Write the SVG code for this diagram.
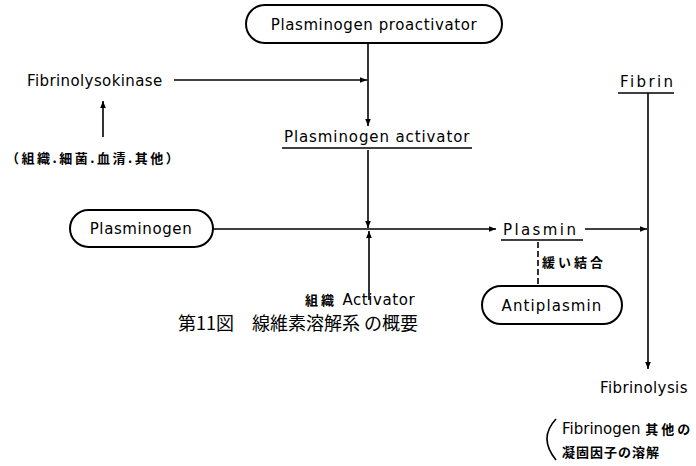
<svg xmlns="http://www.w3.org/2000/svg" width="696" height="466" viewBox="0 0 696 466">
<style>
.t{font-family:"DejaVu Sans","Noto Sans CJK JP",sans-serif;font-size:15px;fill:#000}
.j{font-family:"Noto Sans CJK JP",sans-serif;font-size:13px;font-weight:bold;fill:#000}
.c{font-family:"Noto Sans CJK JP",serif;font-size:18px;fill:#000}
.box{fill:#fff;stroke:#000;stroke-width:2}
.ln{stroke:#000;stroke-width:1.6;fill:none}
</style>
<defs>
<marker id="ah" viewBox="0 0 10 10" refX="10" refY="5" markerWidth="7" markerHeight="7" markerUnits="userSpaceOnUse" orient="auto"><path d="M0,1 L10,5 L0,9 Z" fill="#000"/></marker>
</defs>
<g id="connectors">
<line class="ln" x1="368" y1="43" x2="368" y2="126" marker-end="url(#ah)"/>
<line class="ln" x1="174" y1="80" x2="367" y2="80" marker-end="url(#ah)"/>
<line class="ln" x1="103" y1="137" x2="103" y2="101" marker-end="url(#ah)"/>
<line class="ln" x1="368" y1="150" x2="368" y2="228" marker-end="url(#ah)"/>
<line class="ln" x1="213" y1="229" x2="496" y2="229" marker-end="url(#ah)"/>
<line class="ln" x1="369" y1="300" x2="369" y2="231" marker-end="url(#ah)"/>
<line class="ln" x1="585" y1="229" x2="647" y2="229" marker-end="url(#ah)"/>
<line class="ln" x1="648" y1="93" x2="648" y2="369" marker-end="url(#ah)"/>
<line class="ln" x1="538" y1="242" x2="538" y2="286" stroke-dasharray="6,3"/>
</g>
<g id="proactivator">
<rect class="box" x="246" y="5" width="256" height="38" rx="19"/>
<text class="t" x="374" y="30" text-anchor="middle" letter-spacing="0.6">Plasminogen  proactivator</text>
</g>
<g id="fibrinolysokinase">
<text class="t" x="27" y="86" letter-spacing="0.4">Fibrinolysokinase</text>
</g>
<g id="sources">
<text class="j" x="6" y="163" font-size="15" letter-spacing="2.5">（組織.細菌.血清.其他）</text>
</g>
<g id="activator">
<text class="t" x="284" y="142" letter-spacing="0.9">Plasminogen  activator</text>
<line class="ln" x1="282" y1="148" x2="472" y2="148"/>
</g>
<g id="plasminogen">
<rect class="box" x="70" y="210" width="143" height="37" rx="18.5"/>
<text class="t" x="141" y="234" text-anchor="middle" letter-spacing="0.6">Plasminogen</text>
</g>
<g id="plasmin">
<text class="t" x="503" y="235" letter-spacing="2.4">Plasmin</text>
<line class="ln" x1="501" y1="240" x2="583" y2="240"/>
</g>
<g id="binding">
<text class="j" x="542" y="267" letter-spacing="3">緩い結合</text>
</g>
<g id="antiplasmin">
<rect class="box" x="482" y="286" width="140" height="38" rx="19"/>
<text class="t" x="552" y="311" text-anchor="middle" letter-spacing="1.1">Antiplasmin</text>
</g>
<g id="tissue-activator">
<text class="j" x="305" y="305" font-size="12" letter-spacing="3">組織<tspan class="t" font-size="14" font-weight="normal" letter-spacing="0.6"> Activator</tspan></text>
</g>
<g id="fibrin">
<text class="t" x="620" y="87" letter-spacing="2.4">Fibrin</text>
<line class="ln" x1="618" y1="93" x2="674" y2="93"/>
</g>
<g id="fibrinolysis">
<text class="t" x="600" y="393" letter-spacing="0.4">Fibrinolysis</text>
</g>
<g id="note">
<path class="ln" d="M556,419 Q538,438 556,460" stroke-width="1.2"/>
<text class="t" x="562" y="434" font-size="14">Fibrinogen <tspan class="j" font-size="13" letter-spacing="3">其他の</tspan></text>
<text class="j" x="562" y="457" letter-spacing="1">凝固因子の溶解</text>
</g>
<g id="caption">
<text class="c" x="178" y="330">第11図　線維素溶解系 の概要</text>
</g>
</svg>
